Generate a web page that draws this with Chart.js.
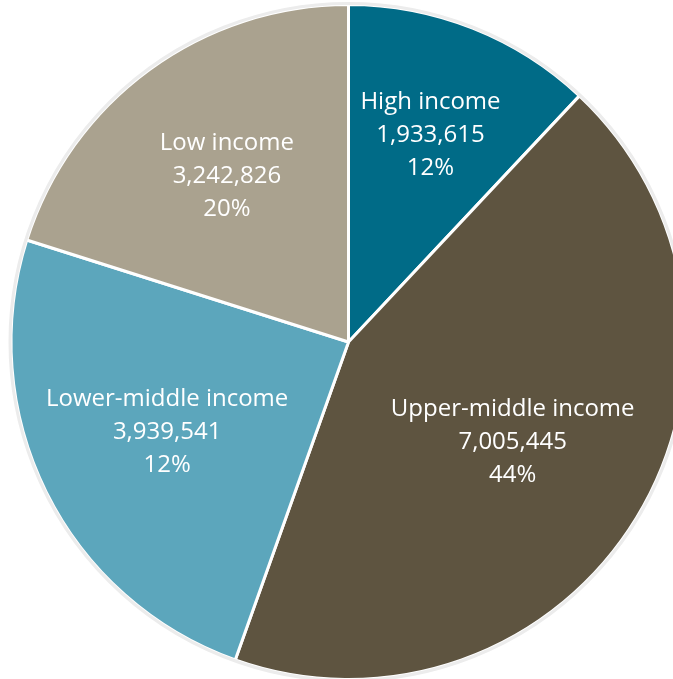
<!DOCTYPE html>
<html>
<head>
<meta charset="utf-8">
<script src="https://cdn.jsdelivr.net/npm/chart.js@4"></script>
<style>
  html, body { margin: 0; padding: 0; background: #fff; overflow: hidden; width: 673px; height: 679px; }
  #myChart { position: absolute; left: 0; top: 0; }
</style>
</head>
<body>
<canvas id="myChart" width="697" height="684"></canvas>
<script>
var categories = ['High income', 'Upper-middle income', 'Lower-middle income', 'Low income'];
var values = [1933615, 7005445, 3939541, 3242826];
var percentLabels = ['12%', '44%', '12%', '20%'];
var colors = ['#006b87', '#5e5440', '#5ca6bc', '#aaa28f'];

// how far out from the centre each label sits (fraction of radius)
var labelDist = [0.66, 0.57, 0.6, 0.61];

function fmt(n) {
  return n.toString().replace(/\B(?=(\d{3})+(?!\d))/g, ',');
}

var sliceLabels = {
  id: 'sliceLabels',
  afterDatasetsDraw: function(chart) {
    var ctx = chart.ctx;
    var arcs = chart.getDatasetMeta(0).data;
    // light outer rim
    var a0 = arcs[0];
    ctx.save();
    ctx.beginPath();
    ctx.arc(a0.x, a0.y, a0.outerRadius + 1, 0, Math.PI * 2);
    ctx.strokeStyle = '#ececec';
    ctx.lineWidth = 3;
    ctx.stroke();

    ctx.fillStyle = '#ffffff';
    ctx.font = '24px "Open Sans"';
    ctx.textAlign = 'center';
    ctx.textBaseline = 'middle';
    for (var i = 0; i < arcs.length; i++) {
      var a = arcs[i];
      var mid = (a.startAngle + a.endAngle) / 2;
      var r = a.outerRadius * labelDist[i];
      var x = a.x + Math.cos(mid) * r;
      var y = a.y + Math.sin(mid) * r;
      var lines = [categories[i], fmt(values[i]), percentLabels[i]];
      for (var j = 0; j < lines.length; j++) {
        ctx.fillText(lines[j], x, y + (j - 1) * 33);
      }
    }
    ctx.restore();
  }
};

var ctx = document.getElementById('myChart').getContext('2d');
var myChart = new Chart(ctx, {
  type: 'pie',
  data: {
    labels: categories,
    datasets: [{
      data: values,
      backgroundColor: colors,
      borderColor: '#ffffff',
      borderWidth: 3
    }]
  },
  options: {
    responsive: false,
    animation: false,
    layout: { padding: 3 },
    plugins: {
      legend: { display: false },
      tooltip: { enabled: false }
    }
  },
  plugins: [sliceLabels]
});
</script>
</body>
</html>
